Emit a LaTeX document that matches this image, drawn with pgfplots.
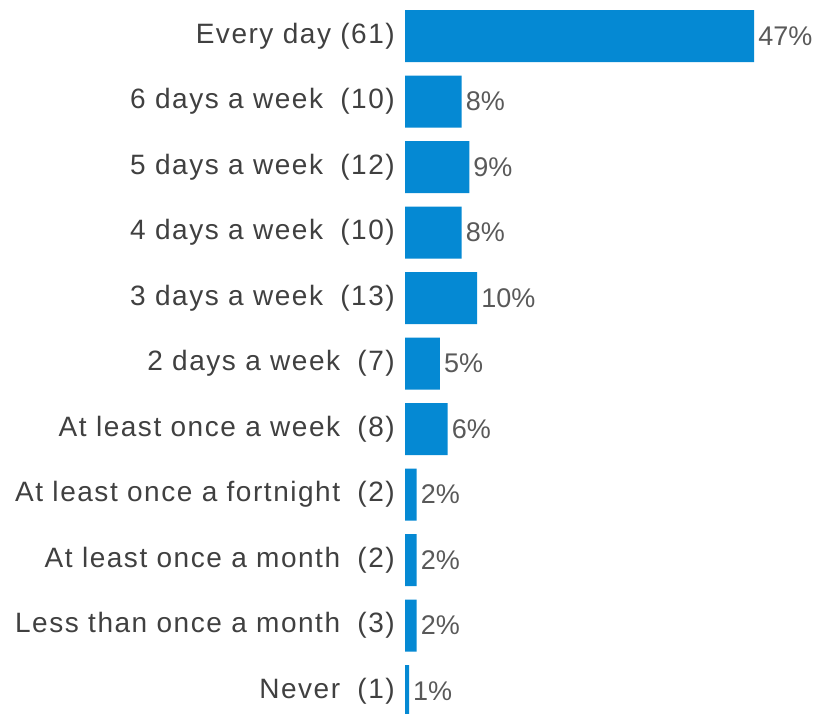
\documentclass[border=0pt]{standalone}
\usepackage{pgfplots}
\pgfplotsset{compat=1.18}
\usepackage{pgfplotstable}
\usepackage{fontspec}
\setmainfont{Liberation Sans}
\newfontfamily\catfont[LetterSpace=5.5]{Liberation Sans}
\definecolor{barblue}{RGB}{5,137,211}
\definecolor{cattext}{RGB}{64,64,64}
\definecolor{valtext}{RGB}{89,89,89}

\pgfplotstableread[col sep=comma]{
idx,val,pct
0,47.0,47
1,7.63,8
2,8.65,9
3,7.63,8
4,9.7,10
5,4.7,5
6,5.75,6
7,1.57,2
8,1.57,2
9,1.57,2
10,0.54,1
}\datatable

\begin{document}
\begin{tikzpicture}[x=1pt,y=1pt]
\path[use as bounding box] (0,0) rectangle (816,713);
\begin{axis}[
  at={(405pt,-10.75pt)}, anchor=south west,
  scale only axis, width=371.5pt, height=720.5pt,
  xmin=0, xmax=50, ymin=-0.5, ymax=10.5, y dir=reverse,
  xbar, bar width=52pt,
  axis line style={draw=none},
  tick style={draw=none},
  major tick length=0pt,
  xtick=\empty,
  ytick={0,1,2,3,4,5,6,7,8,9,10},
  yticklabels={
    {Every day (61)},
    {6 days a week\hspace{8pt} (10)},
    {5 days a week\hspace{8pt} (12)},
    {4 days a week\hspace{8pt} (10)},
    {3 days a week\hspace{8pt} (13)},
    {2 days a week\hspace{8pt} (7)},
    {At least once a week\hspace{8pt} (8)},
    {At least once a fortnight\hspace{8pt} (2)},
    {At least once a month\hspace{8pt} (2)},
    {Less than once a month\hspace{8pt} (3)},
    {Never\hspace{8pt} (1)}
  },
  yticklabel style={font=\catfont\fontsize{28}{33.6}\selectfont, text=cattext, inner sep=0pt, anchor=east, xshift=-10pt},
  point meta=explicit symbolic,
  nodes near coords={\pgfplotspointmeta\%},
  every node near coord/.append style={anchor=west, inner sep=0pt, xshift=4pt,
    font=\fontsize{27}{32}\selectfont, text=valtext},
  clip=false,
]
\addplot[fill=barblue, draw=none]
  table[x=val, y=idx, meta=pct]{\datatable};
\end{axis}
\end{tikzpicture}
\end{document}
